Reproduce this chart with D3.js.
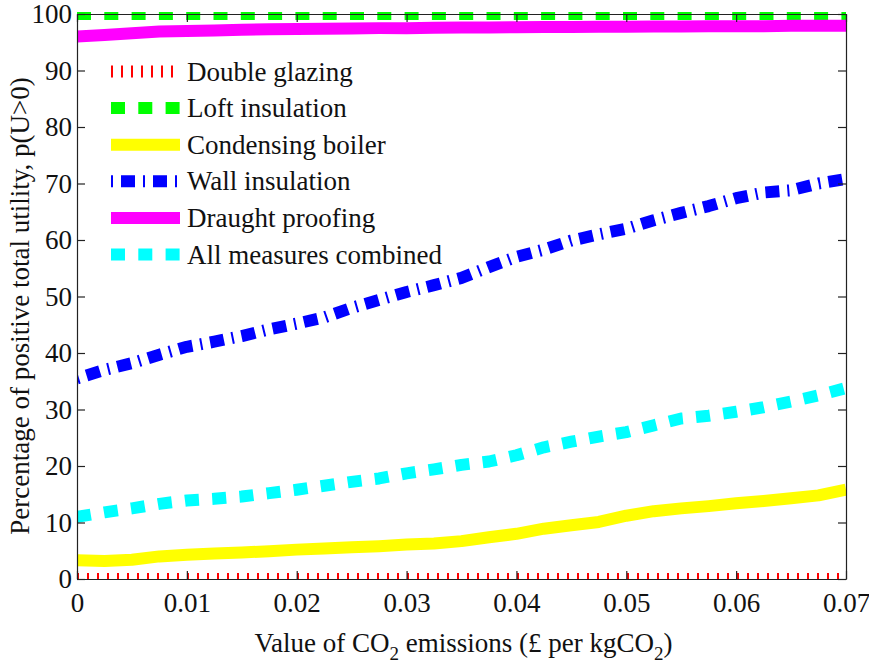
<!DOCTYPE html>
<html><head><meta charset="utf-8">
<script src="https://cdn.jsdelivr.net/npm/d3@7/dist/d3.min.js"></script>
<style>body{margin:0;background:#fff;} svg{display:block;}</style>
</head><body>
<svg id="chart" width="869" height="666"></svg>
<script>
const xValues = [0,0.0025,0.005,0.0075,0.01,0.0125,0.015,0.0175,0.02,0.0225,0.025,0.0275,0.03,0.0325,0.035,0.0375,0.04,0.0425,0.045,0.0475,0.05,0.0525,0.055,0.0575,0.06,0.0625,0.065,0.0675,0.07];
const doubleGlazing = [0,0,0,0,0,0,0,0,0,0,0,0,0,0,0,0,0,0,0,0,0,0,0,0,0,0,0,0,0];
const loftInsulation = [100,100,100,100,100,100,100,100,100,100,100,100,100,100,100,100,100,100,100,100,100,100,100,100,100,100,100,100,100];
const condensingBoiler = [3.3,3.2,3.4,4.0,4.3,4.5,4.7,4.9,5.2,5.4,5.6,5.8,6.1,6.3,6.7,7.4,8.0,8.9,9.5,10.1,11.2,12.0,12.5,12.9,13.4,13.8,14.3,14.8,15.8];
const wallInsulation = [35.5,37.0,38.2,39.7,41.1,42.0,43.0,44.2,45.2,46.3,48.0,49.4,50.8,52.0,53.3,55.2,57.0,58.3,59.9,61.0,62.0,63.5,64.8,66.0,67.4,68.4,68.8,70.0,70.8];
const draughtProofing = [96.0,96.3,96.6,96.9,97.0,97.1,97.2,97.3,97.35,97.4,97.45,97.5,97.5,97.55,97.6,97.6,97.65,97.7,97.7,97.75,97.75,97.8,97.8,97.85,97.85,97.85,97.9,97.9,97.9];
const allMeasures = [11.0,11.8,12.5,13.3,13.9,14.2,14.6,15.2,15.8,16.5,17.2,17.8,18.7,19.4,20.2,20.8,21.9,23.3,24.3,25.2,26.0,27.2,28.4,28.9,29.6,30.4,31.4,32.5,33.8];
const seriesNames = ["Double glazing","Loft insulation","Condensing boiler","Wall insulation","Draught proofing","All measures combined"];
const xTicks = [0,0.01,0.02,0.03,0.04,0.05,0.06,0.07];
const xTickLabels = ["0","0.01","0.02","0.03","0.04","0.05","0.06","0.07"];
const yTicks = [0,10,20,30,40,50,60,70,80,90,100];

const seriesData = [doubleGlazing, loftInsulation, condensingBoiler, wallInsulation, draughtProofing, allMeasures];
const styles = [
  {color:"#ff0000", dash:"2,8"},
  {color:"#00ff00", dash:"14,13.3"},
  {color:"#ffff00", dash:null},
  {color:"#0000ff", dash:"2,8,14,8"},
  {color:"#ff00ff", dash:null},
  {color:"#00ffff", dash:"14,13.3"}
];
const LW = 12;
const FS = 27;
const FONT = "'Liberation Serif','Times New Roman',serif";

const svg = d3.select("#chart");
const L = 77, R = 846, T = 14, B = 579;
const x = d3.scaleLinear().domain([0,0.07]).range([L,R]);
const y = d3.scaleLinear().domain([0,100]).range([B,T]);

svg.append("defs").append("clipPath").attr("id","clip")
  .append("rect").attr("x",L).attr("y",T-2).attr("width",R-L).attr("height",B-T+2);

const line = d3.line().x((d,i)=>x(xValues[i])).y(d=>y(d));
const g = svg.append("g").attr("clip-path","url(#clip)");
seriesData.forEach((s,k)=>{
  g.append("path").datum(s).attr("d",line).attr("fill","none")
    .attr("stroke",styles[k].color).attr("stroke-width",LW)
    .attr("stroke-dasharray",styles[k].dash)
    .attr("stroke-linejoin","round").attr("stroke-linecap","butt");
});

// axes
const axStyle = sel => { sel.selectAll("path,line").attr("stroke","#222").attr("stroke-width",1.2); sel.selectAll("text").attr("font-family",FONT).attr("font-size",FS).attr("fill","#111"); };
svg.append("g").attr("transform",`translate(0,${B})`)
  .call(d3.axisBottom(x).tickValues(xTicks).tickFormat((d,i)=>xTickLabels[i]).tickSizeInner(-8).tickSizeOuter(0).tickPadding(14))
  .call(axStyle);
svg.append("g").attr("transform",`translate(0,${T})`)
  .call(d3.axisTop(x).tickValues(xTicks).tickFormat("").tickSizeInner(-8).tickSizeOuter(0))
  .call(axStyle);
svg.append("g").attr("transform",`translate(${L},0)`)
  .call(d3.axisLeft(y).tickValues(yTicks).tickSizeInner(-8).tickSizeOuter(0).tickPadding(5))
  .call(axStyle);
svg.append("g").attr("transform",`translate(${R},0)`)
  .call(d3.axisRight(y).tickValues(yTicks).tickFormat("").tickSizeInner(-8).tickSizeOuter(0))
  .call(axStyle);
svg.selectAll(".domain").attr("fill","none");

// legend
const leg = svg.append("g");
seriesNames.forEach((name,k)=>{
  const cy = 71.5 + k*36.6;
  leg.append("line").attr("x1",111).attr("x2",180).attr("y1",cy).attr("y2",cy)
    .attr("stroke",styles[k].color).attr("stroke-width",LW).attr("stroke-dasharray",styles[k].dash);
  leg.append("text").attr("x",187).attr("y",cy+9).attr("font-family",FONT).attr("font-size",FS).attr("fill","#111").text(name);
});

// axis labels
const xl = svg.append("text").attr("x",(L+R)/2+2).attr("y",652).attr("text-anchor","middle")
  .attr("font-family",FONT).attr("font-size",FS).attr("fill","#111");
xl.append("tspan").text("Value of CO");
xl.append("tspan").attr("dy",8).attr("font-size",19).text("2");
xl.append("tspan").attr("dy",-8).text(" emissions (£ per kgCO");
xl.append("tspan").attr("dy",8).attr("font-size",19).text("2");
xl.append("tspan").attr("dy",-8).text(")");

svg.append("text").attr("transform","translate(28.5,306) rotate(-90)").attr("text-anchor","middle")
  .attr("font-family",FONT).attr("font-size",FS).attr("fill","#111")
  .text("Percentage of positive total utility, p(U>0)");
</script>
</body></html>
